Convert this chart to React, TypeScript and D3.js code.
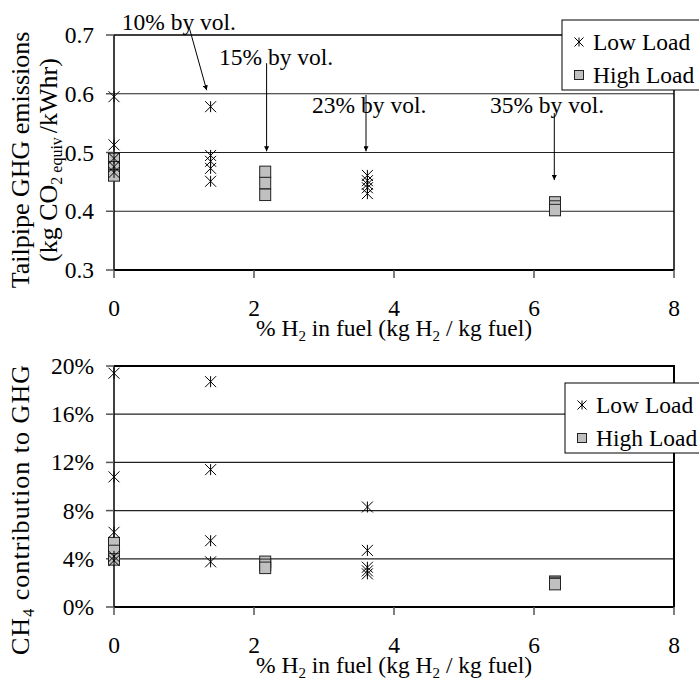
import * as d3 from 'd3';
import type { SVGProps } from 'react';

// H2 mass fraction (% kg H2 / kg fuel) for each test condition
const h2Levels = [0, 1.38, 2.16, 3.62, 6.3];
const xTicks = [0, 2, 4, 6, 8];

// tailpipe GHG, kg CO2 equiv / kWhr, one list per h2 level
const ghgLowLoad = [[0.595, 0.513, 0.49, 0.476, 0.466], [0.578, 0.495, 0.485, 0.473, 0.451], [], [0.461, 0.452, 0.446, 0.44, 0.43], []];
const ghgHighLoad = [[0.489, 0.475, 0.461], [], [0.467, 0.448, 0.428], [], [0.415, 0.408, 0.402]];
const ghgTicks = [0.3, 0.4, 0.5, 0.6, 0.7];

// CH4 share of GHG, %
const ch4LowLoad = [[19.4, 10.8, 6.2, 4.2, 3.85], [18.7, 11.4, 5.5, 3.75], [], [8.3, 4.7, 3.3, 3.0, 2.75], []];
const ch4HighLoad = [[5.3, 4.65, 3.95], [], [3.75, 3.5, 3.25], [], [2.1, 2.0, 1.9]];
const ch4Ticks = [0, 4, 8, 12, 16, 20];

// "% by vol." callouts on the top chart: label, text pos, arrow start, arrow end (data units)
const calloutLabels = ['10% by vol.', '15% by vol.', '23% by vol.', '35% by vol.'];
const calloutText = [[0.11, 0.7226], [1.5, 0.6626], [2.83, 0.581], [5.37, 0.581]];
const calloutFrom = [[1.076, 0.712], [2.18, 0.652], [3.6, 0.598], [6.29, 0.567]];
const calloutTo = [[1.324, 0.606], [2.18, 0.502], [3.6, 0.502], [6.29, 0.453]];

const FONT = 'Liberation Serif';
const FS = 23.5;
const SUB = 15;
const TITLE_FS = 26;

// every text gets the font itself
const T = (props: SVGProps<SVGTextElement>) => <text fontFamily={FONT} fontSize={FS} fill="#000" {...props} />;

type PanelDef = {
  low: number[][];
  high: number[][];
  yDomain: [number, number];
  yRange: [number, number];
  yTicks: number[];
  yFormat: (d: number) => string;
  legend: [number, number];
  callouts: boolean;
};

const panels: PanelDef[] = [
  {
    low: ghgLowLoad,
    high: ghgHighLoad,
    yDomain: [0.3, 0.7],
    yRange: [270, 35],
    yTicks: ghgTicks,
    yFormat: d3.format('.1f'),
    legend: [562, 20],
    callouts: true,
  },
  {
    low: ch4LowLoad,
    high: ch4HighLoad,
    yDomain: [0, 20],
    yRange: [607, 366],
    yTicks: ch4Ticks,
    yFormat: (d) => `${d}%`,
    legend: [565, 383],
    callouts: false,
  },
];

const starPath = (s: number) => `M${-s},${-s}L${s},${s}M${-s},${s}L${s},${-s}M0,${-s}L0,${s}`;

const x = d3.scaleLinear([0, 8], [114, 674]);

function Panel({ p }: { p: PanelDef }) {
  const y = d3.scaleLinear(p.yDomain, p.yRange);
  const [yBottom, yTop] = p.yRange;
  const highPts = p.high.flatMap((vals, i) => vals.map((v) => ({ x: h2Levels[i], v })));
  const lowPts = p.low.flatMap((vals, i) => vals.map((v) => ({ x: h2Levels[i], v })));
  const [lx, ly] = p.legend;

  return (
    <g>
      {/* gridlines */}
      {p.yTicks.slice(1, -1).map((t) => (
        <line key={t} x1={x(0)} x2={x(8)} y1={y(t)} y2={y(t)} stroke="#222" strokeWidth={1.2} />
      ))}
      {/* top + right border */}
      <path d={`M${x(0)},${yTop}H${x(8)}V${yBottom}`} fill="none" stroke="#000" strokeWidth={p.callouts ? 1.5 : 2} />
      {/* y axis */}
      <line x1={x(0)} x2={x(0)} y1={yBottom} y2={yTop} stroke="#000" strokeWidth={1.5} />
      {p.yTicks.map((t) => (
        <g key={t} transform={`translate(0,${y(t)})`}>
          <line x1={x(0) - 8} x2={x(0)} stroke="#555" strokeWidth={1.5} />
          <T x={x(0) - 20} dy="0.34em" textAnchor="end">
            {p.yFormat(t)}
          </T>
        </g>
      ))}
      {/* x axis */}
      <line x1={x(0)} x2={x(8)} y1={yBottom} y2={yBottom} stroke="#000" strokeWidth={2} />
      {xTicks.map((t) => (
        <g key={t} transform={`translate(${x(t)},${yBottom})`}>
          <line y2={8} stroke="#555" strokeWidth={1.5} />
          <T y={46} textAnchor="middle">
            {t}
          </T>
        </g>
      ))}
      <T x={(x(0) + x(8)) / 2} y={yBottom + 66} textAnchor="middle">
        <tspan>% H</tspan>
        <tspan dy={5} fontSize={SUB}>2</tspan>
        <tspan dy={-5}> in fuel (kg H</tspan>
        <tspan dy={5} fontSize={SUB}>2</tspan>
        <tspan dy={-5}> / kg fuel)</tspan>
      </T>
      {/* high load */}
      {highPts.map((d, i) => (
        <rect
          key={i}
          x={x(d.x) - 5.5}
          y={y(d.v) - 5.75}
          width={11}
          height={11.5}
          fill="#c0c0c0"
          stroke="#222"
          strokeWidth={1}
        />
      ))}
      {/* low load */}
      {lowPts.map((d, i) => (
        <path key={i} transform={`translate(${x(d.x)},${y(d.v)})`} d={starPath(5.5)} fill="none" stroke="#000" strokeWidth={1} />
      ))}
      {p.callouts &&
        calloutLabels.map((label, i) => (
          <g key={label}>
            <T x={x(calloutText[i][0])} y={y(calloutText[i][1])} dy="0.34em">
              {label}
            </T>
            <line
              x1={x(calloutFrom[i][0])}
              y1={y(calloutFrom[i][1])}
              x2={x(calloutTo[i][0])}
              y2={y(calloutTo[i][1])}
              stroke="#000"
              strokeWidth={1}
              markerEnd="url(#arrow)"
            />
          </g>
        ))}
      {/* legend */}
      <g transform={`translate(${lx},${ly})`}>
        <rect width={160} height={70} fill="#fff" stroke="#000" strokeWidth={1} />
        <path transform="translate(17,22)" d={starPath(4.5)} stroke="#000" fill="none" />
        <T x={31} y={22} dy="0.34em">Low Load</T>
        <rect x={12.5} y={50.5} width={9} height={9} fill="#c0c0c0" stroke="#222" />
        <T x={31} y={55} dy="0.34em">High Load</T>
      </g>
    </g>
  );
}

export default function App(): JSX.Element {
  return (
    <div style={{ position: 'absolute', left: 0, top: 0 }}>
      <svg width={699} height={683} viewBox="0 0 699 683" style={{ display: 'block' }}>
        <defs>
          <marker id="arrow" viewBox="0 0 10 10" refX={10} refY={5} markerWidth={5} markerHeight={5} markerUnits="userSpaceOnUse" orient="auto">
            <path d="M0,0L10,5L0,10z" fill="#000" />
          </marker>
        </defs>
        {panels.map((p, i) => (
          <Panel key={i} p={p} />
        ))}
        <T transform="translate(29,160) rotate(-90)" textAnchor="middle" fontSize={TITLE_FS}>
          Tailpipe GHG emissions
        </T>
        <T transform="translate(57,160) rotate(-90)" textAnchor="middle" fontSize={TITLE_FS}>
          <tspan>(kg CO</tspan>
          <tspan dy={5} fontSize={16}>2 equiv </tspan>
          <tspan dy={-5}>/kWhr)</tspan>
        </T>
        <T transform="translate(29,510) rotate(-90)" textAnchor="middle" fontSize={TITLE_FS} textLength={290} lengthAdjust="spacing">
          <tspan>CH</tspan>
          <tspan dy={5} fontSize={16}>4</tspan>
          <tspan dy={-5}> contribution to GHG</tspan>
        </T>
      </svg>
    </div>
  );
}
